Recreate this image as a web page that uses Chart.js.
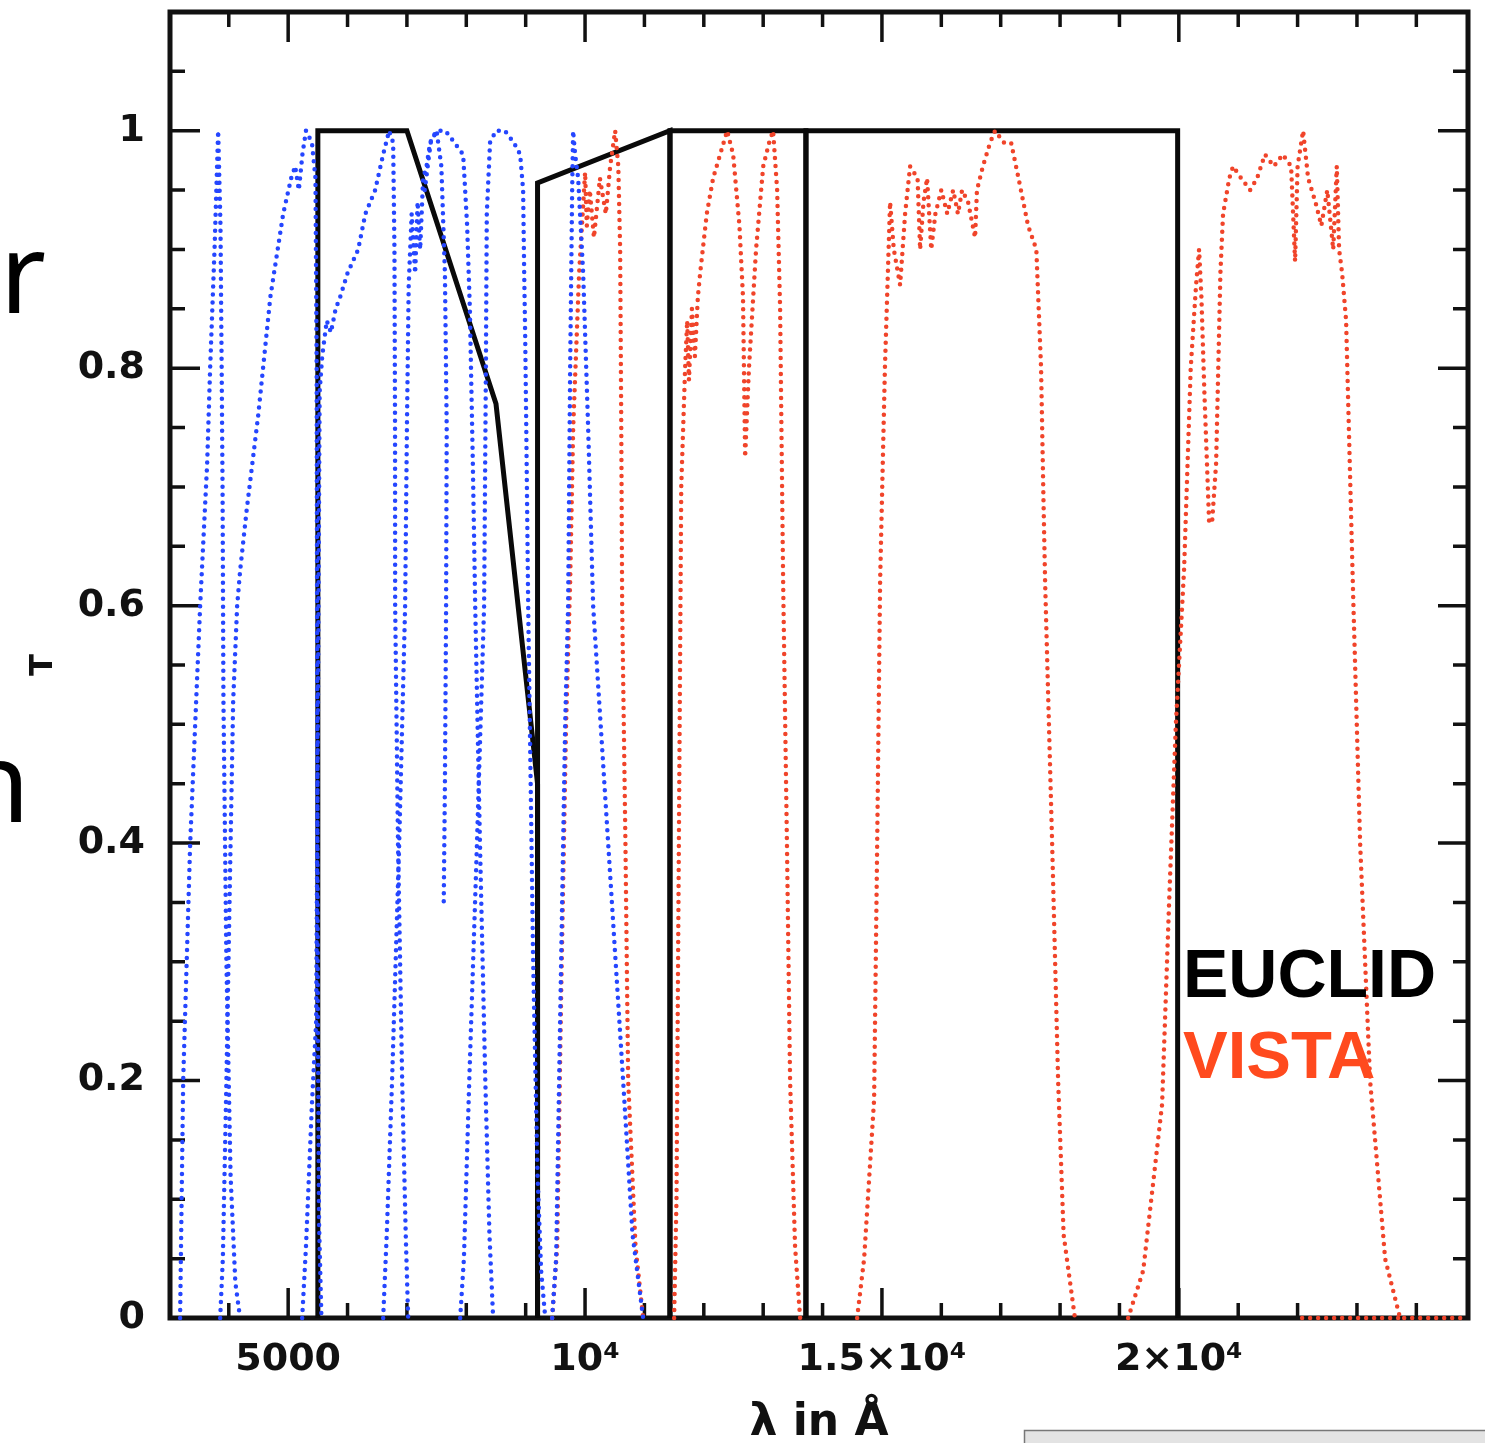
<!DOCTYPE html>
<html lang="en">
<head>
    <meta charset="UTF-8">
    <title>EUCLID / VISTA filter transmission</title>
    <style>
        body { margin: 0; background: #fff; }
        #wrap { width: 1485px; height: 1443px; }
    </style>
</head>
<body>
    <div id="wrap"><canvas id="chart" width="1485" height="1443"></canvas></div>

    <script src="https://cdn.jsdelivr.net/npm/chart.js"></script>
    <script>
        // Curves: [wavelength in Angstrom, transmission]
        const blueU = [[3180,0],[3232,0.2],[3350,0.4],[3518,0.6],[3636,0.72],[3686,0.8],[3760,0.9],[3821,1.0],[3860,0.92],[3880,0.8],[3895,0.7],[3910,0.52],[3960,0.3],[4030,0.12],[4110,0.03],[4190,0]];
        const blueG = [[3855,0],[3900,0.05],[3960,0.2],[4030,0.4],[4074,0.52],[4141,0.6],[4192,0.63],[4300,0.68],[4495,0.76],[4700,0.86],[4916,0.93],[5050,0.96],[5118,0.97],[5180,0.95],[5240,0.98],[5300,1.0],[5400,0.99],[5460,0.96],[5480,0.8],[5490,0.5],[5500,0.25],[5520,0.08],[5560,0]];
        const blueR = [[5236,0],[5300,0.06],[5400,0.18],[5472,0.25],[5500,0.5],[5530,0.78],[5573,0.81],[5650,0.84],[5720,0.83],[5800,0.85],[5876,0.86],[6000,0.88],[6179,0.9],[6300,0.93],[6465,0.95],[6600,0.98],[6700,1.0],[6768,0.99],[6790,0.9],[6800,0.75],[6802,0.6],[6850,0.4],[6920,0.2],[6980,0.07],[7021,0]];
        const blueI = [[6600,0],[6660,0.07],[6750,0.2],[6870,0.4],[6970,0.6],[7000,0.75],[7030,0.87],[7080,0.93],[7139,0.88],[7180,0.94],[7223,0.9],[7273,0.96],[7330,0.97],[7391,0.99],[7500,1.0],[7650,1.0],[7800,0.99],[7947,0.98],[8014,0.92],[8060,0.85],[8110,0.72],[8150,0.6],[8230,0.4],[8320,0.2],[8390,0.07],[8452,0]];
        const blueI2 = [[7300,0.95],[7400,0.99],[7500,1.0],[7580,0.97],[7640,0.88],[7670,0.75],[7660,0.6],[7640,0.45],[7620,0.35]];
        const blueZ = [[7897,0],[7960,0.05],[8050,0.2],[8180,0.4],[8300,0.6],[8330,0.8],[8345,0.93],[8400,0.99],[8500,1.0],[8650,1.0],[8800,0.99],[8907,0.98],[8957,0.95],[8975,0.88],[8991,0.83],[9010,0.75],[9042,0.6],[9126,0.3],[9200,0.12],[9260,0.04],[9330,0]];
        const blueY = [[9446,0],[9513,0.05],[9580,0.25],[9665,0.5],[9715,0.6],[9749,0.8],[9783,0.95],[9799,1.0],[9833,0.98],[9884,0.96],[9968,0.88],[10052,0.75],[10136,0.6],[10389,0.4],[10641,0.2],[10800,0.07],[10978,0]];

        const vistaY = [[9446,0],[9530,0.06],[9600,0.28],[9680,0.5],[9749,0.62],[9800,0.75],[9900,0.88],[10001,0.965],[10030,0.92],[10080,0.95],[10150,0.91],[10250,0.96],[10350,0.93],[10423,0.97],[10507,1.0],[10560,0.97],[10591,0.9],[10610,0.75],[10625,0.6],[10680,0.4],[10726,0.2],[10850,0.06],[10978,0]];
        const vistaJ = [[11500,0],[11540,0.1],[11580,0.4],[11620,0.7],[11685,0.8],[11720,0.84],[11750,0.79],[11800,0.85],[11850,0.81],[11900,0.86],[11938,0.88],[12050,0.93],[12157,0.96],[12393,1.0],[12494,0.98],[12600,0.92],[12660,0.86],[12696,0.725],[12760,0.8],[12880,0.9],[13000,0.97],[13100,0.99],[13167,1.0],[13235,0.95],[13285,0.85],[13336,0.62],[13400,0.4],[13453,0.2],[13537,0.06],[13622,0]];
        const vistaH = [[14582,0],[14700,0.05],[14868,0.184],[14920,0.4],[14969,0.62],[15050,0.8],[15137,0.94],[15200,0.9],[15306,0.87],[15390,0.93],[15474,0.97],[15600,0.96],[15643,0.9],[15700,0.94],[15760,0.96],[15830,0.9],[15900,0.93],[16000,0.95],[16100,0.93],[16200,0.95],[16280,0.93],[16350,0.95],[16450,0.94],[16569,0.91],[16600,0.95],[16700,0.97],[16822,0.99],[16906,1.0],[17050,0.99],[17175,0.99],[17300,0.96],[17461,0.92],[17600,0.9],[17680,0.8],[17720,0.69],[17748,0.62],[17866,0.4],[17967,0.2],[18060,0.07],[18250,0]];
        const vistaKs = [[19146,0],[19400,0.04],[19718,0.18],[19836,0.35],[19950,0.5],[20088,0.63],[20200,0.8],[20290,0.87],[20341,0.9],[20380,0.86],[20430,0.78],[20510,0.67],[20560,0.67],[20628,0.72],[20700,0.88],[20745,0.93],[20850,0.96],[20914,0.97],[21050,0.96],[21200,0.95],[21318,0.96],[21450,0.98],[21600,0.97],[21750,0.98],[21891,0.97],[21958,0.89],[22000,0.97],[22093,1.0],[22177,0.96],[22300,0.94],[22400,0.92],[22500,0.95],[22600,0.9],[22660,0.97],[22699,0.9],[22750,0.88],[22817,0.84],[22935,0.61],[23053,0.4],[23221,0.2],[23474,0.05],[23726,0],[24870,0]];
        const vistaZero = [[22076,0],[23726,0]];

        const euclidVIS = [[5500,0],[5500,1],[7000,1],[8500,0.77],[9200,0.45],[9200,0]];
        const euclidY = [[9200,0],[9200,0.956],[11430,1],[11430,0]];
        const euclidJ = [[11430,0],[11430,1],[13720,1],[13720,0]];
        const euclidH = [[13720,0],[13720,1],[19980,1],[19980,0]];

        // Axis labels
        const xTickValues = [5000, 10000, 15000, 20000];
        const xTickLabels = ['5000', '10\u2074', '1.5\u00d710\u2074', '2\u00d710\u2074'];
        const yTickValues = [0, 0.2, 0.4, 0.6, 0.8, 1];
        const yTickLabels = ['0', '0.2', '0.4', '0.6', '0.8', '1'];

        const BLUE = '#2546ff';
        const RED = '#f0442a';

        function dotted(points, color) {
            return {
                data: points.map(p => ({ x: p[0], y: p[1] })),
                showLine: true,
                borderColor: color,
                borderWidth: 4.5,
                borderDash: [0, 8],
                borderCapStyle: 'round',
                pointRadius: 0,
                tension: 0,
                clip: false,
                order: 0
            };
        }

        function solid(points) {
            return {
                data: points.map(p => ({ x: p[0], y: p[1] })),
                showLine: true,
                borderColor: '#0a0a0a',
                borderWidth: 5,
                borderJoinStyle: 'miter',
                pointRadius: 0,
                tension: 0,
                clip: false,
                order: 1
            };
        }

        // Frame with inward ticks, plus the labels drawn on the plot
        const framePlugin = {
            id: 'frame',
            beforeDatasetsDraw(chart) {
                const { ctx, chartArea: a, scales: { x, y } } = chart;
                ctx.save();
                ctx.strokeStyle = '#111';
                ctx.lineWidth = 5;
                ctx.strokeRect(a.left, a.top, a.right - a.left, a.bottom - a.top);
                ctx.lineWidth = 3.5;
                ctx.beginPath();
                for (let v = 4000; v < x.max; v += 1000) {
                    const px = x.getPixelForValue(v);
                    const len = v % 5000 === 0 ? 30 : 15;
                    ctx.moveTo(px, a.bottom); ctx.lineTo(px, a.bottom - len);
                    ctx.moveTo(px, a.top); ctx.lineTo(px, a.top + len);
                }
                for (let k = 1; k * 0.05 < y.max - 0.01; k++) {
                    const py = y.getPixelForValue(k * 0.05);
                    const len = k % 4 === 0 ? 30 : 15;
                    ctx.moveTo(a.left, py); ctx.lineTo(a.left + len, py);
                    ctx.moveTo(a.right, py); ctx.lineTo(a.right - len, py);
                }
                ctx.stroke();
                ctx.restore();
            },
            afterDraw(chart) {
                const { ctx, scales: { x, y } } = chart;
                ctx.save();
                ctx.textBaseline = 'alphabetic';
                ctx.textAlign = 'left';
                ctx.font = 'bold 68px "Liberation Sans", Arial, sans-serif';
                ctx.fillStyle = '#000';
                ctx.fillText('EUCLID', x.getPixelForValue(20070), y.getPixelForValue(0.27));
                ctx.font = 'bold 67px "Liberation Sans", Arial, sans-serif';
                ctx.fillStyle = '#ff4a1e';
                ctx.fillText('VISTA', x.getPixelForValue(20070), y.getPixelForValue(0.202));

                // leftovers of the slide around the figure
                ctx.fillStyle = '#000';
                ctx.textAlign = 'right';
                ctx.font = '112px "Noto Sans", sans-serif';
                ctx.fillText('r', 46, 313);
                ctx.fillText('n', 30, 822);
                ctx.fillStyle = '#e3e3e3';
                ctx.fillRect(1024, 1430, 461, 13);
                ctx.strokeStyle = '#777';
                ctx.lineWidth = 1.5;
                ctx.beginPath();
                ctx.moveTo(1024.5, 1443); ctx.lineTo(1024.5, 1430.5); ctx.lineTo(1485, 1430.5);
                ctx.stroke();
                ctx.restore();
            }
        };

        const tickFont = { family: 'DejaVu Sans', size: 38, weight: 'bold' };

        new Chart(document.getElementById('chart'), {
            type: 'scatter',
            data: {
                datasets: [
                    dotted(blueU, BLUE), dotted(blueG, BLUE), dotted(blueR, BLUE),
                    dotted(blueI, BLUE), dotted(blueI2, BLUE), dotted(blueZ, BLUE), dotted(blueY, BLUE),
                    dotted(vistaY, RED), dotted(vistaJ, RED), dotted(vistaH, RED),
                    dotted(vistaKs, RED), dotted(vistaZero, RED),
                    solid(euclidVIS), solid(euclidY), solid(euclidJ), solid(euclidH)
                ]
            },
            options: {
                responsive: false,
                animation: false,
                devicePixelRatio: 1,
                layout: { padding: { top: 12, right: 17, left: 0, bottom: 0 } },
                plugins: { legend: { display: false }, tooltip: { enabled: false } },
                scales: {
                    x: {
                        type: 'linear',
                        min: 3010,
                        max: 24870,
                        grid: { display: false, drawTicks: false },
                        border: { display: false },
                        afterBuildTicks: s => { s.ticks = xTickValues.map(v => ({ value: v })); },
                        afterFit: s => { s.height = 125; s.paddingLeft = 0; s.paddingRight = 0; },
                        ticks: {
                            padding: 19,
                            color: '#111',
                            font: tickFont,
                            maxRotation: 0,
                            autoSkip: false,
                            callback: (v, i) => xTickLabels[i]
                        },
                        title: {
                            display: true,
                            text: 'λ in Å',
                            color: '#111',
                            font: { family: 'DejaVu Sans', size: 44, weight: 'bold' },
                            padding: { top: 0, bottom: -7 }
                        }
                    },
                    y: {
                        min: 0,
                        max: 1.1,
                        grid: { display: false, drawTicks: false },
                        border: { display: false },
                        afterBuildTicks: s => { s.ticks = yTickValues.map(v => ({ value: v })); },
                        afterFit: s => { s.width = 170; s.paddingTop = 0; s.paddingBottom = 0; },
                        ticks: {
                            padding: 25,
                            color: '#111',
                            font: tickFont,
                            autoSkip: false,
                            callback: (v, i) => yTickLabels[i]
                        },
                        title: {
                            display: true,
                            text: 'T',
                            color: '#111',
                            font: { family: 'DejaVu Sans', size: 32, weight: 'bold' },
                            padding: { top: 24, bottom: 0 }
                        }
                    }
                }
            },
            plugins: [framePlugin]
        });
    </script>
</body>
</html>
